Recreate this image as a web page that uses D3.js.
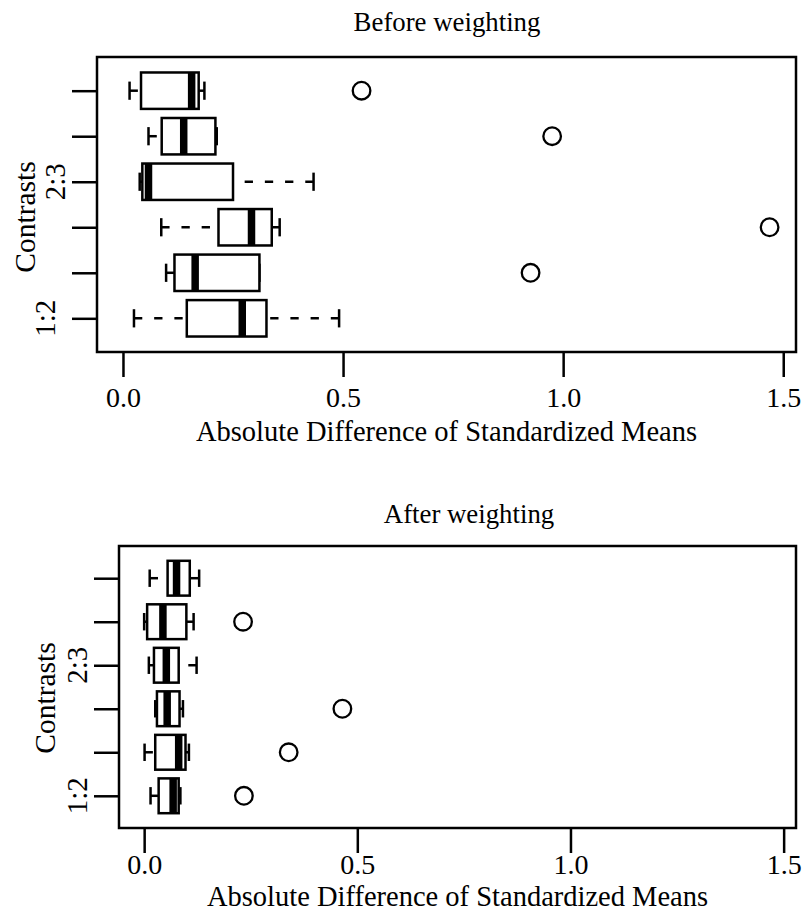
<!DOCTYPE html>
<html>
<head>
<meta charset="utf-8">
<script src="https://cdn.jsdelivr.net/npm/d3@7"></script>
<style>
  html, body { margin: 0; padding: 0; background: #fff; }
  svg { display: block; }
</style>
</head>
<body>
<svg id="chart" width="803" height="913"></svg>
<script>
// ---------- data ----------
const categories = ["1:2", "1:3", "1:4", "2:3", "2:4", "3:4"];
const yTickLabels = ["1:2", "", "", "2:3", "", ""];
const xTicks = [0.0, 0.5, 1.0, 1.5];
const xTickLabels = ["0.0", "0.5", "1.0", "1.5"];

// Before weighting (rows from bottom to top)
const beforeLow  = [0.025, 0.098, 0.087, 0.038, 0.058, 0.015];
const beforeQ1   = [0.145, 0.117, 0.217, 0.044, 0.088, 0.041];
const beforeMed  = [0.271, 0.164, 0.292, 0.058, 0.138, 0.156];
const beforeQ3   = [0.326, 0.310, 0.338, 0.250, 0.210, 0.172];
const beforeHigh = [0.491, 0.310, 0.356, 0.433, 0.213, 0.185];
const beforeOut  = [[], [0.926], [1.469], [], [0.975], [0.542]];

// After weighting
const afterLow  = [0.015, 0.001, 0.026, 0.011, 0.000, 0.013];
const afterQ1   = [0.034, 0.026, 0.030, 0.023, 0.007, 0.055];
const afterMed  = [0.068, 0.081, 0.054, 0.052, 0.044, 0.076];
const afterQ3   = [0.081, 0.097, 0.083, 0.081, 0.099, 0.107];
const afterHigh = [0.085, 0.105, 0.091, 0.123, 0.116, 0.129];
const afterOut  = [[0.234], [0.339], [0.465], [], [0.232], []];

const xDomain = [-0.059, 1.529];
const yDomain = [0.26, 6.74];

const FONT = '"Liberation Serif", "Times New Roman", Times, serif';
const svg = d3.select("#chart");
const LW = 2.5;
const DASH = "8.3,11.9";

function drawPanel(p) {
  const g = svg.append("g");
  const x = d3.scaleLinear().domain(xDomain).range([p.left, p.right]);
  const y = d3.scaleLinear().domain(yDomain).range([p.bottom, p.top]);
  const unitH = Math.abs(y(1) - y(0));
  const boxHalf = 0.4 * unitH;
  const stapleHalf = 0.2 * unitH;

  const rows = categories.map((c, i) => ({
    cat: c, pos: i + 1,
    lo: p.low[i], q1: p.q1[i], med: p.med[i], q3: p.q3[i], hi: p.high[i], out: p.out[i]
  }));

  const rg = g.selectAll("g.row").data(rows).enter().append("g").attr("class", "row");

  // whiskers (dashed, drawn from extreme toward box)
  rg.append("line")
    .attr("x1", d => x(d.lo)).attr("x2", d => x(d.q1))
    .attr("y1", d => y(d.pos)).attr("y2", d => y(d.pos))
    .attr("stroke", "#000").attr("stroke-width", LW).attr("stroke-dasharray", DASH);
  rg.append("line")
    .attr("x1", d => x(d.hi)).attr("x2", d => x(d.q3))
    .attr("y1", d => y(d.pos)).attr("y2", d => y(d.pos))
    .attr("stroke", "#000").attr("stroke-width", LW).attr("stroke-dasharray", DASH);
  // staples
  rg.append("line")
    .attr("x1", d => x(d.lo)).attr("x2", d => x(d.lo))
    .attr("y1", d => y(d.pos) - stapleHalf).attr("y2", d => y(d.pos) + stapleHalf)
    .attr("stroke", "#000").attr("stroke-width", LW);
  rg.append("line")
    .attr("x1", d => x(d.hi)).attr("x2", d => x(d.hi))
    .attr("y1", d => y(d.pos) - stapleHalf).attr("y2", d => y(d.pos) + stapleHalf)
    .attr("stroke", "#000").attr("stroke-width", LW);
  // box
  rg.append("rect")
    .attr("x", d => x(d.q1)).attr("width", d => x(d.q3) - x(d.q1))
    .attr("y", d => y(d.pos) - boxHalf).attr("height", 2 * boxHalf)
    .attr("fill", "#fff").attr("stroke", "#000").attr("stroke-width", LW);
  // median
  rg.append("line")
    .attr("x1", d => x(d.med)).attr("x2", d => x(d.med))
    .attr("y1", d => y(d.pos) - boxHalf).attr("y2", d => y(d.pos) + boxHalf)
    .attr("stroke", "#000").attr("stroke-width", 3 * LW);
  // outliers
  rg.selectAll("circle").data(d => d.out.map(v => ({ v, pos: d.pos }))).enter()
    .append("circle")
    .attr("cx", d => x(d.v)).attr("cy", d => y(d.pos)).attr("r", 8.8)
    .attr("fill", "none").attr("stroke", "#000").attr("stroke-width", 2.3);

  // frame
  g.append("rect")
    .attr("x", p.left).attr("y", p.top)
    .attr("width", p.right - p.left).attr("height", p.bottom - p.top)
    .attr("fill", "none").attr("stroke", "#000").attr("stroke-width", LW);

  // x axis
  const xa = g.append("g").attr("transform", `translate(0,${p.bottom})`)
    .call(d3.axisBottom(x).tickValues(xTicks).tickSize(25)
      .tickFormat((d, i) => xTickLabels[i]));
  xa.attr("font-family", FONT);
  xa.select(".domain").remove();
  xa.selectAll(".tick line").attr("stroke", "#000").attr("stroke-width", LW);
  xa.selectAll(".tick text").attr("y", p.xLabelOffset).attr("dy", null)
    .attr("font-size", 28).attr("fill", "#000").attr("font-family", FONT);

  // y axis
  const ya = g.append("g").attr("transform", `translate(${p.left},0)`)
    .call(d3.axisLeft(y).tickValues(d3.range(1, categories.length + 1)).tickSize(25)
      .tickFormat(() => ""));
  ya.select(".domain").remove();
  ya.selectAll(".tick line").attr("stroke", "#000").attr("stroke-width", LW);

  // y tick labels (rotated)
  yTickLabels.forEach((lab, i) => {
    if (!lab) return;
    g.append("text")
      .attr("transform", `translate(${p.yLabX[i]},${y(i + 1)}) rotate(-90)`)
      .attr("text-anchor", "middle")
      .attr("font-family", FONT).attr("font-size", 29)
      .text(lab);
  });

  // titles
  g.append("text")
    .attr("x", p.titleX).attr("y", p.titleY)
    .attr("text-anchor", "middle").attr("font-family", FONT).attr("font-size", 26.8)
    .text(p.title);
  g.append("text")
    .attr("x", p.xTitleX).attr("y", p.xTitleY)
    .attr("text-anchor", "middle").attr("font-family", FONT).attr("font-size", 28.5)
    .text("Absolute Difference of Standardized Means");
  g.append("text")
    .attr("transform", `translate(${p.yTitleX},${p.yTitleY}) rotate(-90)`)
    .attr("text-anchor", "middle").attr("font-family", FONT).attr("font-size", 29.5)
    .text("Contrasts");
}

drawPanel({
  title: "Before weighting",
  left: 97, right: 796, top: 57, bottom: 352,
  low: beforeLow, q1: beforeQ1, med: beforeMed, q3: beforeQ3, high: beforeHigh, out: beforeOut,
  titleX: 447, titleY: 31,
  xLabelOffset: 54.5, xTitleX: 446.5, xTitleY: 441,
  yLabX: [55, 0, 0, 65, 0, 0],
  yTitleX: 35, yTitleY: 217
});

drawPanel({
  title: "After weighting",
  left: 119, right: 796, top: 546, bottom: 828,
  low: afterLow, q1: afterQ1, med: afterMed, q3: afterQ3, high: afterHigh, out: afterOut,
  titleX: 469, titleY: 523,
  xLabelOffset: 46, xTitleX: 457.5, xTitleY: 906,
  yLabX: [87, 0, 0, 87, 0, 0],
  yTitleX: 55, yTitleY: 698
});
</script>
</body>
</html>
